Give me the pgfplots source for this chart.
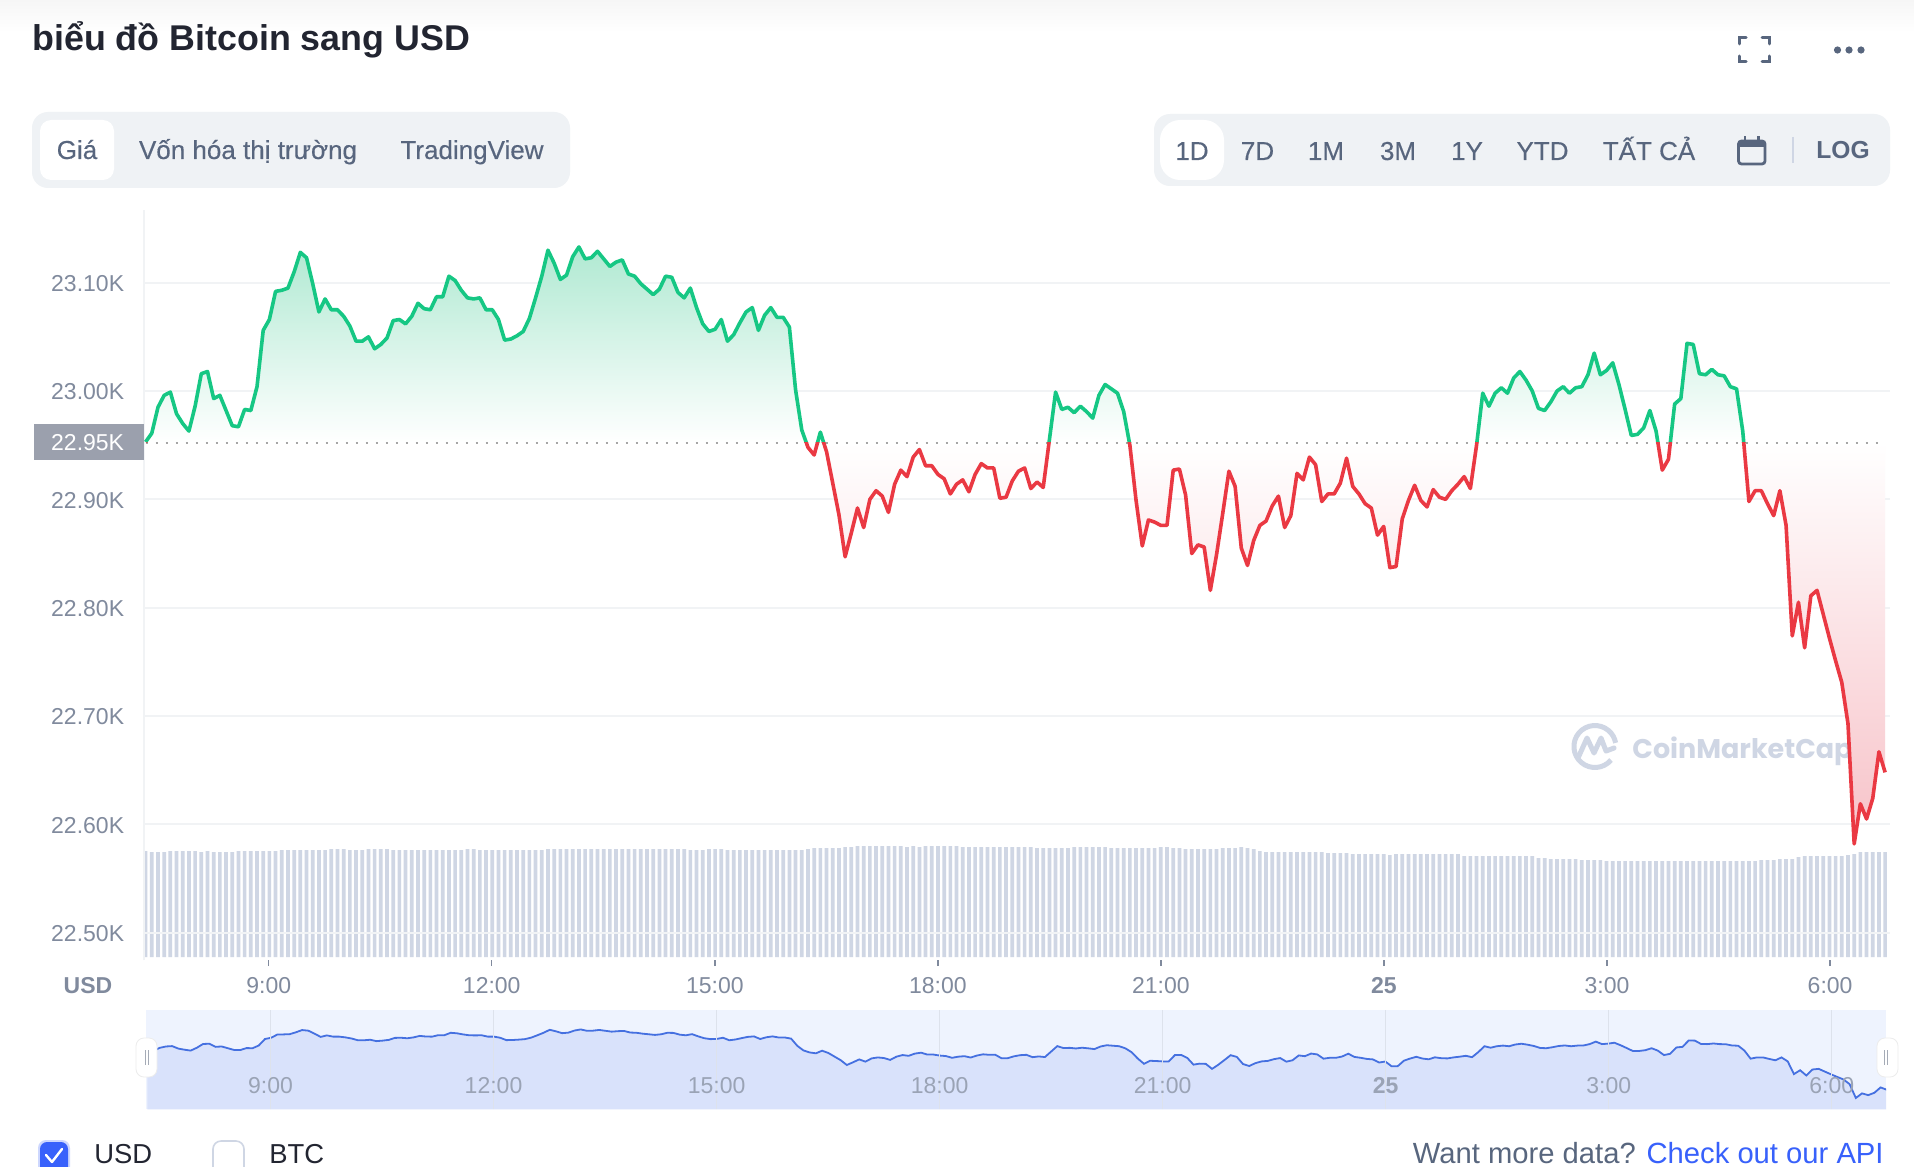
\documentclass[border=0pt]{standalone}
\usepackage{fontspec}
\setmainfont{Liberation Sans}
\newfontfamily\wmfont{Poppins}
\newfontfamily\medfont[FakeBold=0.3]{Liberation Sans}
\usepackage{pgfplots}
\usepackage{pgfplotstable}
\pgfplotsset{compat=1.18}
\definecolor{upc}{HTML}{16C784}
\definecolor{dnc}{HTML}{EA3943}
\definecolor{upf}{HTML}{B0E9D2}
\definecolor{dnf}{HTML}{F7C2C8}
\definecolor{gridc}{HTML}{F1F3F5}
\definecolor{tickc}{HTML}{808A9D}
\definecolor{barc}{HTML}{CFD6E4}
\definecolor{slatec}{HTML}{58667E}
\definecolor{pillc}{HTML}{EFF2F5}
\definecolor{bluec}{HTML}{3861FB}
\definecolor{navbg}{HTML}{EEF3FE}
\definecolor{navarea}{HTML}{D9E2FB}
\definecolor{navline}{HTML}{4570E0}
\definecolor{navtick}{HTML}{9AA3B5}
\definecolor{darkc}{HTML}{222531}
\definecolor{badgec}{HTML}{9BA0AD}
\pgfdeclareverticalshading{cmcarea}{100bp}{color(0bp)=(dnf); color(25bp)=(dnf); color(58.6bp)=(white); color(75bp)=(upf); color(100bp)=(upf)}
\pgfplotstableread[row sep=\\]{p\\
22953\\ 22961\\ 22985\\ 22996\\ 22999\\ 22979\\ 22970\\ 22963\\ 22986\\ 23016\\
23018\\ 22993\\ 22996\\ 22982\\ 22968\\ 22967\\ 22983\\ 22982\\ 23004\\ 23056\\
23066\\ 23092\\ 23093\\ 23095\\ 23110\\ 23128\\ 23123\\ 23099\\ 23073\\ 23085\\
23075\\ 23075\\ 23069\\ 23060\\ 23046\\ 23046\\ 23050\\ 23039\\ 23043\\ 23049\\
23065\\ 23066\\ 23062\\ 23069\\ 23081\\ 23076\\ 23075\\ 23087\\ 23087\\ 23106\\
23102\\ 23093\\ 23086\\ 23085\\ 23086\\ 23075\\ 23075\\ 23066\\ 23047\\ 23048\\
23051\\ 23055\\ 23067\\ 23086\\ 23106\\ 23130\\ 23118\\ 23103\\ 23107\\ 23124\\
23133\\ 23122\\ 23123\\ 23129\\ 23122\\ 23115\\ 23119\\ 23121\\ 23108\\ 23106\\
23099\\ 23094\\ 23089\\ 23094\\ 23106\\ 23105\\ 23091\\ 23086\\ 23095\\ 23077\\
23062\\ 23055\\ 23057\\ 23066\\ 23046\\ 23052\\ 23063\\ 23073\\ 23077\\ 23056\\
23070\\ 23077\\ 23068\\ 23068\\ 23059\\ 23001\\ 22964\\ 22948\\ 22941\\ 22962\\
22944\\ 22915\\ 22886\\ 22847\\ 22869\\ 22892\\ 22874\\ 22900\\ 22908\\ 22903\\
22888\\ 22914\\ 22927\\ 22921\\ 22939\\ 22946\\ 22931\\ 22931\\ 22923\\ 22919\\
22905\\ 22914\\ 22918\\ 22907\\ 22923\\ 22933\\ 22929\\ 22929\\ 22901\\ 22902\\
22917\\ 22926\\ 22929\\ 22910\\ 22916\\ 22911\\ 22955\\ 22999\\ 22983\\ 22985\\
22980\\ 22986\\ 22981\\ 22975\\ 22996\\ 23006\\ 23002\\ 22998\\ 22981\\ 22950\\
22899\\ 22857\\ 22881\\ 22879\\ 22876\\ 22876\\ 22927\\ 22928\\ 22904\\ 22850\\
22858\\ 22856\\ 22816\\ 22849\\ 22887\\ 22926\\ 22912\\ 22855\\ 22839\\ 22862\\
22876\\ 22880\\ 22894\\ 22903\\ 22874\\ 22885\\ 22924\\ 22918\\ 22939\\ 22932\\
22898\\ 22905\\ 22905\\ 22915\\ 22938\\ 22912\\ 22905\\ 22896\\ 22892\\ 22867\\
22875\\ 22837\\ 22838\\ 22882\\ 22899\\ 22913\\ 22899\\ 22893\\ 22909\\ 22902\\
22900\\ 22908\\ 22914\\ 22921\\ 22910\\ 22950\\ 22998\\ 22986\\ 22998\\ 23003\\
22998\\ 23012\\ 23018\\ 23010\\ 23000\\ 22984\\ 22982\\ 22990\\ 23000\\ 23004\\
22998\\ 23003\\ 23004\\ 23015\\ 23035\\ 23015\\ 23019\\ 23026\\ 23006\\ 22983\\
22959\\ 22960\\ 22966\\ 22982\\ 22963\\ 22927\\ 22937\\ 22988\\ 22993\\ 23044\\
23043\\ 23016\\ 23015\\ 23020\\ 23015\\ 23014\\ 23004\\ 23002\\ 22963\\ 22898\\
22908\\ 22908\\ 22896\\ 22885\\ 22908\\ 22876\\ 22774\\ 22805\\ 22763\\ 22811\\
22816\\ 22794\\ 22772\\ 22751\\ 22731\\ 22693\\ 22582\\ 22619\\ 22605\\ 22624\\
22667\\ 22648\\
}\pricetable
\pgfplotstableread[row sep=\\]{v\\
106\\ 105\\ 105\\ 105\\ 106\\ 106\\ 106\\ 106\\ 106\\ 105\\
106\\ 105\\ 105\\ 105\\ 105\\ 106\\ 106\\ 106\\ 106\\ 106\\
106\\ 106\\ 107\\ 107\\ 107\\ 107\\ 107\\ 107\\ 107\\ 107\\
108\\ 108\\ 108\\ 107\\ 107\\ 107\\ 108\\ 108\\ 108\\ 108\\
107\\ 107\\ 107\\ 107\\ 107\\ 107\\ 107\\ 107\\ 107\\ 107\\
107\\ 107\\ 108\\ 108\\ 107\\ 107\\ 107\\ 107\\ 107\\ 107\\
107\\ 107\\ 107\\ 107\\ 107\\ 108\\ 108\\ 108\\ 108\\ 108\\
108\\ 108\\ 108\\ 108\\ 108\\ 108\\ 108\\ 108\\ 108\\ 108\\
108\\ 108\\ 108\\ 108\\ 108\\ 108\\ 108\\ 108\\ 107\\ 107\\
107\\ 108\\ 108\\ 108\\ 107\\ 107\\ 107\\
107\\ 107\\ 107\\ 107\\ 107\\ 107\\ 107\\ 107\\ 107\\ 107\\
108\\ 109\\ 109\\ 109\\ 109\\ 109\\ 110\\ 110\\ 111\\ 111\\
111\\ 111\\ 111\\ 111\\ 111\\ 111\\ 110\\ 111\\ 110\\ 111\\
111\\ 111\\ 111\\ 111\\ 111\\ 110\\ 110\\ 110\\ 110\\ 110\\
110\\ 110\\ 110\\ 110\\ 110\\ 110\\ 110\\ 109\\ 109\\ 109\\
109\\ 109\\ 109\\ 110\\ 110\\ 110\\ 110\\ 110\\ 110\\ 109\\
109\\ 109\\ 109\\ 109\\ 109\\ 109\\ 109\\ 110\\ 110\\ 109\\
109\\ 108\\ 108\\ 108\\ 108\\ 108\\ 108\\ 109\\ 109\\ 109\\
110\\ 109\\ 108\\ 106\\ 105\\ 105\\ 105\\ 105\\ 105\\ 105\\
105\\ 105\\ 105\\ 105\\ 104\\ 104\\ 104\\
104\\ 103\\ 103\\ 103\\ 103\\ 103\\ 103\\ 102\\ 103\\ 103\\
103\\ 103\\ 103\\ 103\\ 103\\ 103\\ 103\\ 103\\ 103\\ 101\\
101\\ 101\\ 101\\ 101\\ 101\\ 101\\ 101\\ 101\\ 101\\ 101\\
101\\ 99\\ 99\\ 98\\ 98\\ 98\\ 98\\ 98\\ 97\\ 97\\
97\\ 97\\ 96\\ 96\\ 96\\ 96\\ 96\\ 96\\ 96\\ 96\\
96\\ 96\\ 96\\ 96\\ 96\\ 96\\ 96\\ 96\\ 96\\ 96\\
96\\ 96\\ 96\\ 96\\ 96\\ 96\\ 96\\ 97\\ 97\\ 97\\
98\\ 98\\ 98\\ 100\\ 101\\ 101\\ 101\\ 101\\ 101\\ 101\\
101\\ 102\\ 103\\ 105\\ 105\\ 105\\ 105\\ 105\\
}\voltable
\pgfplotsset{
  main/.style={scale only axis,width=873.25pt,xmin=7.316,xmax=30.806,clip=true},
}
\tikzset{
  pick/.style={text=slatec,font=\medfont\fontsize{13}{15}\selectfont,anchor=base,inner sep=0pt},
}
\begin{document}
\begin{tikzpicture}
\useasboundingbox (0,0) rectangle (957pt,-583pt);
\clip (0,0) rectangle (957pt,-583pt);
\fill[white] (0,0) rectangle (957pt,-583pt);
\begin{scope}[x=0.5pt,y=-0.5pt]
  % top fade
  \shade[top color=gray!7,bottom color=white] (0,0) rectangle (1914,32);
  % title
  \node[anchor=base west,inner sep=0pt,text=darkc,font=\fontsize{17.9}{22}\bfseries\selectfont] at (32,50.5) {biểu đồ Bitcoin sang USD};
  % icons
  \begin{scope}[draw=slatec,line width=1.5pt,line cap=round]
    \draw (1739,44)--(1739,38)--(1746,38);
    \draw (1762,38)--(1769,38)--(1769,44);
    \draw (1739,56)--(1739,62)--(1746,62);
    \draw (1762,62)--(1769,62)--(1769,56);
  \end{scope}
  \fill[slatec] (1837.5,50) circle (3.6) (1849,50) circle (3.6) (1861,50) circle (3.6);
  % left pill
  \fill[pillc,rounded corners=8pt] (32,112) rectangle (570,188);
  \fill[white,rounded corners=5.5pt] (40,120) rectangle (114,180);
  \node[pick] at (77,159) {Giá};
  \node[pick] at (248,159) {Vốn hóa thị trường};
  \node[pick] at (472,159) {TradingView};
  % right pill
  \fill[pillc,rounded corners=8pt] (1154,114) rectangle (1890,186);
  \fill[white,rounded corners=10pt] (1160,120) rectangle (1224,180);
  \node[pick] at (1192,160) {1D};
  \node[pick] at (1257.5,160) {7D};
  \node[pick] at (1326,160) {1M};
  \node[pick] at (1398,160) {3M};
  \node[pick] at (1467,160) {1Y};
  \node[pick] at (1542.5,160) {YTD};
  \node[pick] at (1649,160) {TẤT CẢ};
  \draw[slatec,line width=1.4pt,rounded corners=1.5pt] (1738.5,141) rectangle (1765,164);
  \fill[slatec] (1738.5,141) rectangle (1765,147);
  \draw[slatec,line width=1.2pt] (1745,136.5)--(1745,142) (1758.5,136.5)--(1758.5,142);
  \draw[barc,line width=0.7pt] (1793,137)--(1793,163);
  \node[pick,font=\fontsize{12.3}{15}\bfseries\selectfont] at (1843,159) {LOG};
  % watermark
  \draw[barc,line width=2.5pt] (1611,760) arc[start angle=40,end angle=350,radius=21];
  \draw[barc,line width=2.5pt,line join=round,line cap=round] (1578,758)--(1587,738)--(1594,753)--(1601,738)--(1606,751)--(1614,748);
  \node[anchor=base west,inner sep=0pt,text=barc,font=\wmfont\fontsize{13.5}{16}\bfseries\selectfont] at (1632,758) {CoinMarketCap};
  % axis caption
  \node[anchor=base,inner sep=0pt,text=tickc,font=\fontsize{11.5}{14}\bfseries\selectfont] at (88,993) {USD};
  % legend row
  \fill[bluec!25,rounded corners=4pt] (38,1140) rectangle (70,1180);
  \fill[bluec,rounded corners=3.5pt] (40,1142) rectangle (68,1180);
  \draw[white,line width=1.2pt,line cap=round,line join=round] (46,1155)--(52,1162)--(62,1149);
  \draw[barc,line width=0.8pt,fill=white,rounded corners=4pt] (213,1141) rectangle (244,1180);
  \node[anchor=base west,inner sep=0pt,text=darkc,font=\fontsize{13.7}{16}\selectfont] at (94,1163) {USD};
  \node[anchor=base west,inner sep=0pt,text=darkc,font=\fontsize{13.7}{16}\selectfont] at (269,1163) {BTC};
  \node[anchor=base east,inner sep=0pt,font=\fontsize{14.6}{16}\selectfont] at (1884,1163) {\textcolor{slatec}{Want more data?} \textcolor{bluec}{Check out our API}};
\end{scope}

% volume bars
\begin{axis}[main,at={(71.75pt,-478.5pt)},anchor=south west,height=60pt,ymin=0,ymax=120,hide axis,ybar,bar width=1.85pt,bar shift=0pt]
  \addplot[fill=barc,draw=none] table[x expr=7.344+0.08326*\coordindex,y=v] {\voltable};
\end{axis}

% price axis with grid, area, baseline
\begin{axis}[main,at={(71.75pt,-480pt)},anchor=south west,height=375pt,ymin=22474.8,ymax=23167.1,
  axis lines=left,
  scaled y ticks=false,
  x axis line style={draw=none,-},
  y axis line style={-,draw=gridc,line width=1pt},
  tick align=outside,
  ytick={22500,22600,22700,22800,22900,23000,23100},
  yticklabels={22.50K,22.60K,22.70K,22.80K,22.90K,23.00K,23.10K},
  ytick style={draw=none},
  xtick={9,12,15,18,21,24,27,30},
  xticklabels={9:00,12:00,15:00,18:00,21:00,\textbf{25},3:00,6:00},
  xtick style={draw=tickc,line width=0.7pt},
  major tick length=3pt,
  ymajorgrids,
  grid style={gridc,line width=1pt},
  yticklabel style={anchor=east,inner sep=0pt,text=tickc,font=\fontsize{11.5}{13}\selectfont,xshift=-6.5pt,yshift=-0.5pt},
  xticklabel style={anchor=base,inner sep=0pt,text=tickc,font=\fontsize{11.5}{13}\selectfont,yshift=-13.8pt},
]
  \addplot[shade,shading=cmcarea,draw=none] table[x expr=7.344+0.08326*\coordindex,y=p] {\pricetable} -- (axis cs:30.74,22952.3) -- (axis cs:7.344,22952.3) -- cycle;
  \addplot[draw=gray!70,line width=1pt,dash pattern=on 1pt off 4pt] coordinates {(7.344,22952.3) (30.74,22952.3)};
\end{axis}

% green part of the line
\begin{axis}[main,at={(71.75pt,-221.35pt)},anchor=south west,height=116.35pt,ymin=22952.3,ymax=23167.1,hide axis]
  \addplot[upc,line width=1.8pt,line join=round] table[x expr=7.344+0.08326*\coordindex,y=p] {\pricetable};
\end{axis}
% red part of the line
\begin{axis}[main,at={(71.75pt,-480pt)},anchor=south west,height=258.65pt,ymin=22474.8,ymax=22952.3,hide axis]
  \addplot[dnc,line width=1.8pt,line join=round] table[x expr=7.344+0.08326*\coordindex,y=p] {\pricetable};
\end{axis}

% navigator
\begin{axis}[scale only axis,at={(73.2pt,-554.65pt)},anchor=south west,width=869.8pt,height=49.65pt,
  xmin=7.331,xmax=30.73,ymin=22491,ymax=23289,
  axis line style={draw=none},
  axis background/.style={fill=navbg},
  axis on top,
  ytick=\empty,
  xtick={9,12,15,18,21,24,27,30},
  xticklabels={9:00,12:00,15:00,18:00,21:00,\textbf{25},3:00,6:00},
  xtick pos=bottom,
  xtick style={draw=none},
  xmajorgrids,
  grid style={barc!70,line width=0.5pt},
  xticklabel style={anchor=base,inner sep=0pt,text=navtick,font=\fontsize{11.5}{13}\selectfont,yshift=8pt},
]
  \addplot[fill=navarea,draw=none] table[x expr=7.344+0.08326*\coordindex,y=p] {\pricetable} \closedcycle;
  \addplot[navline,line width=0.9pt] table[x expr=7.344+0.08326*\coordindex,y=p] {\pricetable};
\end{axis}

\begin{scope}[x=0.5pt,y=-0.5pt]
  % 22.95K badge
  \fill[badgec] (34,424) rectangle (144,460);
  \node[anchor=east,inner sep=0pt,text=white,font=\fontsize{11.5}{13}\selectfont] at (124.5,442.5) {22.95K};
  % navigator handles
  \fill[white,draw=gray!15,line width=0.4pt,rounded corners=4pt] (136,1038) rectangle (157,1077);
  \draw[barc!80!black,line width=0.5pt] (145,1050)--(145,1065) (148.5,1050)--(148.5,1065);
  \fill[white,draw=gray!15,line width=0.4pt,rounded corners=4pt] (1877,1038) rectangle (1898,1077);
  \draw[barc!80!black,line width=0.5pt] (1884,1050)--(1884,1065) (1887.5,1050)--(1887.5,1065);
\end{scope}
\end{tikzpicture}
\end{document}
